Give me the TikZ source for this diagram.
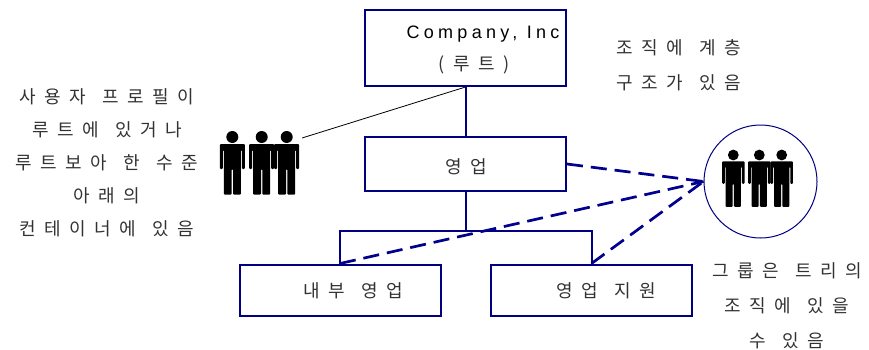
\documentclass[tikz,border=0pt]{standalone}
\usepackage{fontspec}
\newfontfamily\kofont[LetterSpace=47,WordSpace=1.3]{Noto Sans CJK KR}
\newfontfamily\enfont[LetterSpace=24]{Liberation Sans}
\definecolor{boxblue}{RGB}{0,0,128}
\definecolor{labelgray}{RGB}{50,50,50}
\tikzset{
    orgbox/.style={draw=boxblue,line width=2pt,rectangle,inner sep=0pt},
    kotext/.style={text=labelgray,font=\kofont\fontsize{18}{35}\selectfont,align=center,inner sep=0pt},
    entext/.style={text=black,font=\enfont\fontsize{18}{20}\selectfont,inner sep=0pt},
    orgline/.style={draw=boxblue,line width=2pt},
    dashlink/.style={draw=boxblue,line width=1.1pt,double=blue!45!boxblue,double distance=.5pt,dash pattern=on 16pt off 8pt},
    person/.pic={
        \fill (0,0) circle (6);
        \fill[rounded corners=1] (-12.5,7) -- (12.5,7) -- (12.5,32) -- (9.5,32) -- (9.5,13) -- (8.5,13) -- (8.5,57.7) -- (.7,57.7) -- (.7,32) -- (-.7,32) -- (-.7,57.7) -- (-8.5,57.7) -- (-8.5,13) -- (-9.5,13) -- (-9.5,32) -- (-12.5,32) -- cycle;
    }
}
\begin{document}
\begin{tikzpicture}[x=1pt,y=-1pt]
    \useasboundingbox (0,0) rectangle (869,349);

    \node [orgbox,minimum width=201pt,minimum height=76pt] (company) at (465.5,48) {};
    \node [orgbox,minimum width=201pt,minimum height=54pt] (sales) at (465.5,164) {};
    \node [orgbox,minimum width=201pt,minimum height=51pt] (inner) at (340,290) {};
    \node [orgbox,minimum width=201pt,minimum height=51pt] (support) at (591.5,290) {};
    \node [draw=boxblue,line width=1pt,circle,minimum size=113pt,inner sep=0pt] (group) at (760.5,181.5) {};

    \node [entext] (companyname) at (483,34) {Company, Inc};
    \node [kotext] (companyroot) at (474,65) {(루트)};
    \node [kotext] (saleslabel) at (466,167) {영업};
    \node [kotext] (innerlabel) at (353,291) {내부 영업};
    \node [kotext] (supportlabel) at (606,291) {영업 지원};

    \node [kotext] (hierarchy) at (679,65) {조직에 계층\\구조가 있음};
    \node [kotext] (profile) at (107,163) {사용자 프로필이\\[-2pt]루트에 있거나\\[-2pt]루트보아 한 수준\\[-2pt]아래의\\[-2pt]컨테이너에 있음};
    \node [kotext] (grouptext) at (787,305.5) {그룹은 트리의\\조직에 있을\\수 있음};

    \coordinate (fork) at (sales.south |- 0,231);
    \coordinate (profileend) at (302,138);

    \draw [orgline] (company) -- (sales);
    \draw [orgline] (sales) -- (fork);
    \draw [orgline] (inner) |- (fork) -| (support);
    \draw [line width=.8pt] (company.south) -- (profileend);

    \draw [dashlink] (sales.east) -- (group.west);
    \draw [dashlink] (inner.north) -- (group.west);
    \draw [dashlink] (support.north) -- (group.west);

    \pic at (232.3,137) {person};
    \pic at (261.7,137) {person};
    \pic at (286.7,137) {person};
    \pic [scale=.9] at (733.3,155) {person};
    \pic [scale=.9] at (759.3,155) {person};
    \pic [scale=.9] at (781.7,155) {person};
\end{tikzpicture}
\end{document}
